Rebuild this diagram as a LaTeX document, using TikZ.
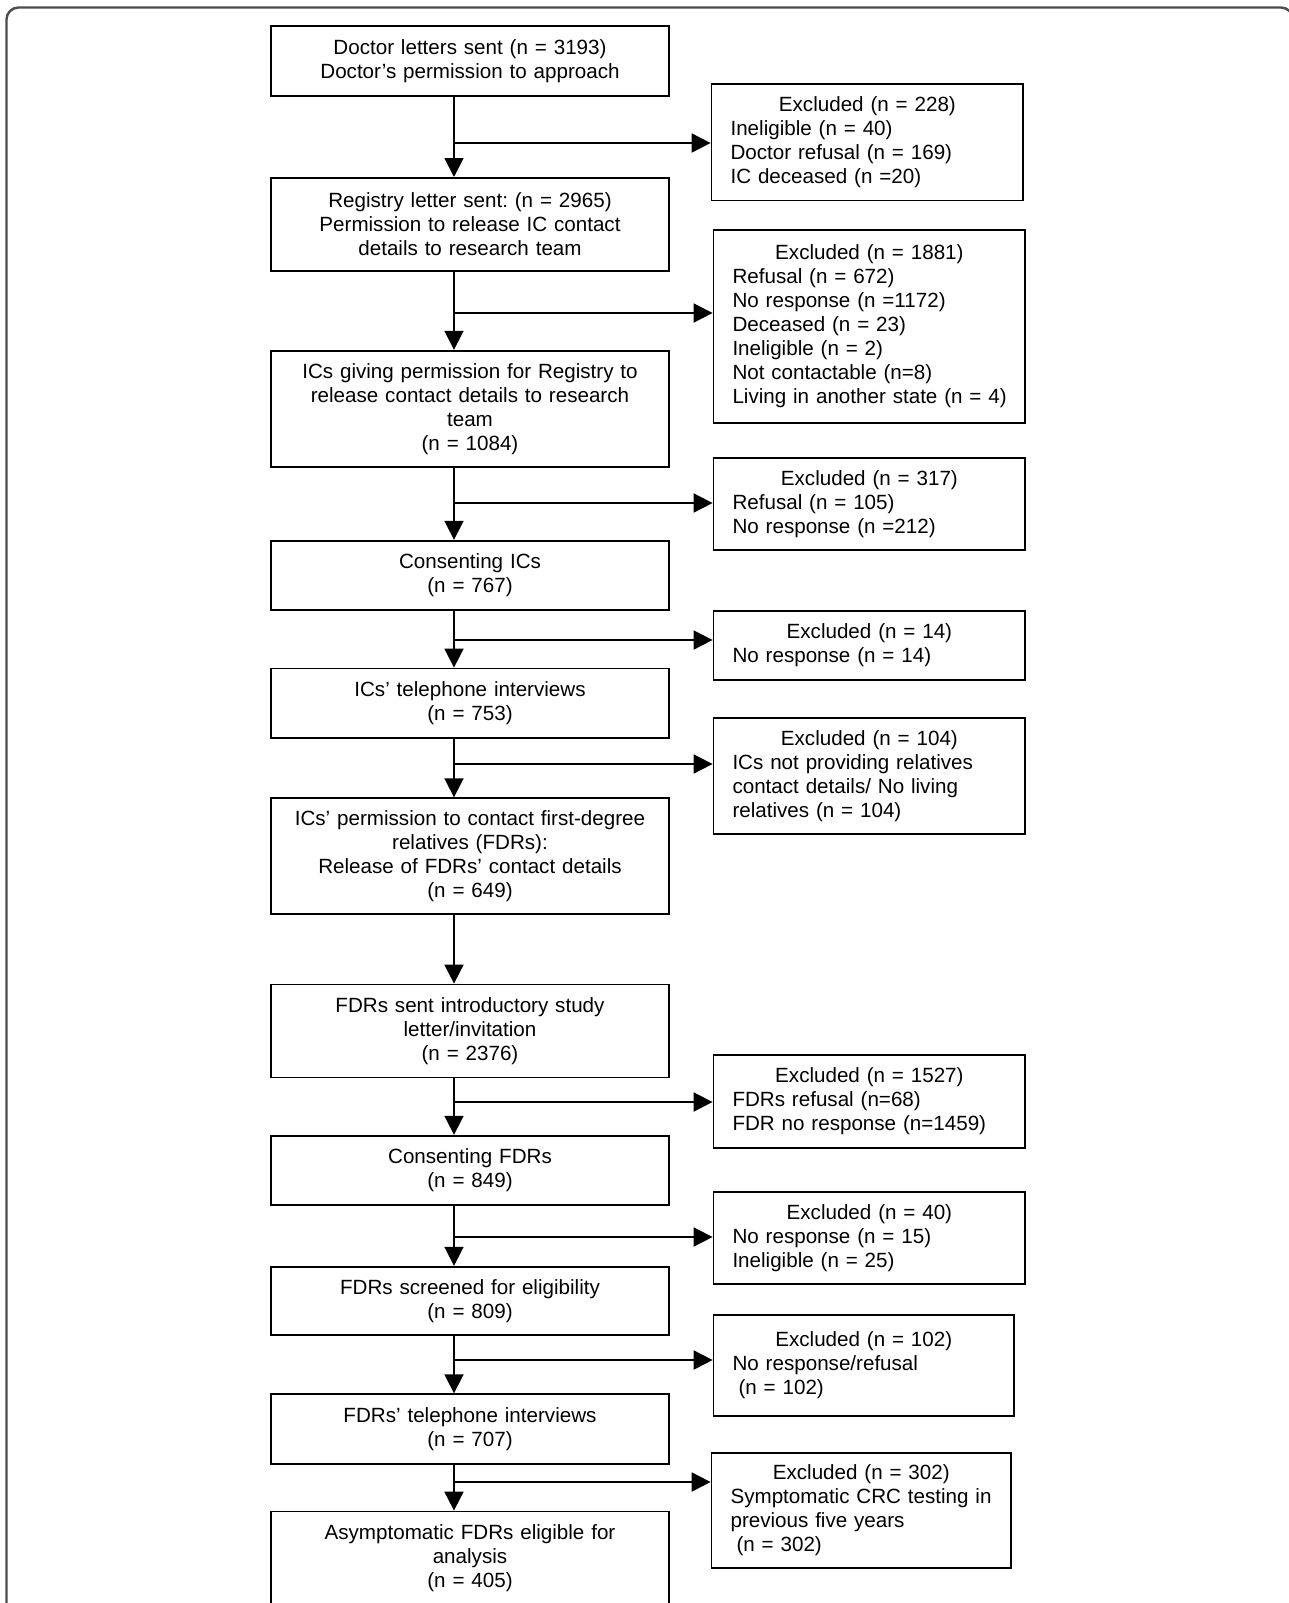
\documentclass[tikz,border=0pt]{standalone}
\usepackage{fontspec}
\setmainfont{Liberation Sans}
\usetikzlibrary{arrows.meta}
\frenchspacing
\newcommand{\exhead}[1]{\makebox[\linewidth]{#1}}

\begin{document}
\begin{tikzpicture}[
                    x = 0.5pt,
                    y = -0.5pt,
    every node/.style = {font=\fontsize{10.3}{12}\selectfont, line width=0.9pt},
       mainbox/.style = {draw, align=center, text width=186pt, inner xsep=6.6pt, minimum height=#1},
  exbox/.style 2 args = {draw, align=left, text width=#1, inner xsep=9.5pt, minimum height=#2},
          flow/.style = {line width=0.9pt, -{Triangle[length=9.5pt,width=9.5pt]}},
         frame/.style = {draw=black!70, line width=1.2pt, rounded corners=6pt},
                    ]
\useasboundingbox (0,0) rectangle (1289,1603);
\clip (0,0) rectangle (1289,1603);
\draw[frame] (6.5,7.5) rectangle (1293,1660);

% main column
\node[mainbox=35.3pt] (letters) at (470,61)
    {Doctor letters sent (n = 3193)\\Doctor’s permission to approach};
\node[mainbox=46.5pt] (registry) at (470,224.4)
    {Registry letter sent: (n = 2965)\\Permission to release IC contact\\details to research team};
\node[mainbox=58.3pt] (icperm) at (470,409)
    {ICs giving permission for Registry to\\release contact details to research\\team\\(n = 1084)};
\node[mainbox=34.8pt] (icconsent) at (470,575.5)
    {Consenting ICs\\(n = 767)};
\node[mainbox=34.8pt] (icphone) at (470,703.3)
    {ICs’ telephone interviews\\(n = 753)};
\node[mainbox=57.8pt] (fdrperm) at (470,856)
    {ICs’ permission to contact first-degree\\relatives (FDRs):\\Release of FDRs’ contact details\\(n = 649)};
\node[mainbox=46.5pt] (fdrsent) at (470,1031)
    {FDRs sent introductory study\\letter/invitation\\(n = 2376)};
\node[mainbox=34.8pt] (fdrconsent) at (470,1170.5)
    {Consenting FDRs\\(n = 849)};
\node[mainbox=34.3pt] (fdrscreen) at (470,1301)
    {FDRs screened for eligibility\\(n = 809)};
\node[mainbox=34.8pt] (fdrphone) at (470,1429)
    {FDRs’ telephone interviews\\(n = 707)};
\node[mainbox=46.5pt] (analysis) at (470,1558)
    {Asymptomatic FDRs eligible for\\analysis\\(n = 405)};

% exclusions
\node[exbox={136.85pt}{58.3pt}] (exdoctor) at (867.4,142.1)
    {\exhead{Excluded (n = 228)}\\Ineligible (n = 40)\\Doctor refusal (n = 169)\\IC deceased (n =20)};
\node[exbox={136.9pt}{96.6pt}] (exregistry) at (869.4,326.6)
    {\exhead{Excluded (n = 1881)}\\Refusal (n = 672)\\No response (n =1172)\\Deceased (n = 23)\\Ineligible (n = 2)\\Not contactable (n=8)\\\mbox{Living in another state (n = 4)}};
\node[exbox={136.9pt}{46pt}] (exconsent) at (869.4,504)
    {\exhead{Excluded (n = 317)}\\Refusal (n = 105)\\No response (n =212)};
\node[exbox={136.9pt}{34.3pt}] (exinterview) at (869.4,645.5)
    {\exhead{Excluded (n = 14)}\\No response (n = 14)};
\node[exbox={136.9pt}{58.3pt}] (exrelatives) at (869.4,775.9)
    {\exhead{Excluded (n = 104)}\\ICs not providing relatives\\contact details/ No living\\relatives (n = 104)};
\node[exbox={136.9pt}{46.5pt}] (exfdr) at (869.4,1101.4)
    {\exhead{Excluded (n = 1527)}\\FDRs refusal (n=68)\\FDR no response (n=1459)};
\node[exbox={136.9pt}{46pt}] (exscreen) at (869.4,1237.9)
    {\exhead{Excluded (n = 40)}\\No response (n = 15)\\Ineligible (n = 25)};
\node[exbox={131.25pt}{50.6pt}] (exrefusal) at (863.8,1365.2)
    {\exhead{Excluded (n = 102)}\\No response/refusal\\\hspace*{3pt}(n = 102)};
\node[exbox={130.75pt}{57.7pt}] (exsymptom) at (861.3,1510.3)
    {\exhead{Excluded (n = 302)}\\\mbox{Symptomatic CRC testing in}\\previous five years\\\hspace*{3pt}(n = 302)};

% connectors
\coordinate (spine) at (454,0);
\foreach \a/\b in {letters/registry, registry/icperm, icperm/icconsent, icconsent/icphone,
                   icphone/fdrperm, fdrperm/fdrsent, fdrsent/fdrconsent, fdrconsent/fdrscreen,
                   fdrscreen/fdrphone, fdrphone/analysis}
    \draw[flow] (\a.south -| spine) -- (\b.north -| spine);
\foreach \y/\e in {143/exdoctor, 313/exregistry, 503/exconsent, 640/exinterview, 764/exrelatives,
                   1102/exfdr, 1237/exscreen, 1360/exrefusal, 1482/exsymptom}{
    \coordinate (j-\e) at (454,\y);
    \draw[flow] (j-\e) -- (j-\e -| \e.west);
}
\end{tikzpicture}
\end{document}
